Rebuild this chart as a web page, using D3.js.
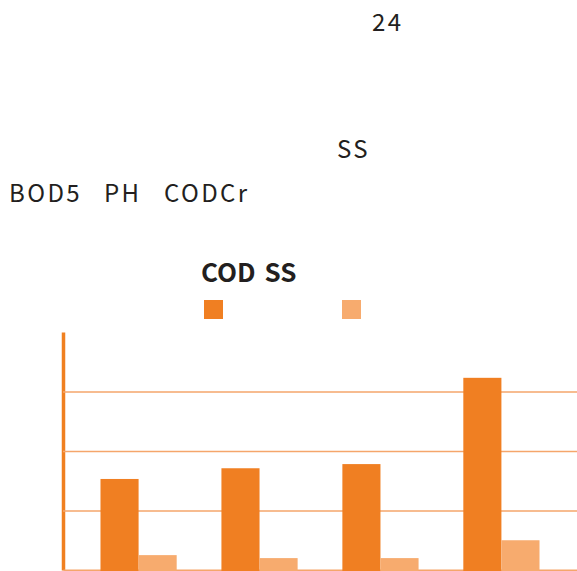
<!DOCTYPE html>
<html>
<head>
<meta charset="utf-8">
<script src="https://cdn.jsdelivr.net/npm/d3@7"></script>
<style>
  body { margin: 0; background: #fff; }
  svg { display: block; font-family: "Noto Sans CJK SC", "Noto Sans", sans-serif; }
  .note { font-size: 24px; fill: #231f20; letter-spacing: 2.4px; }
  .title { font-size: 26px; font-weight: bold; fill: #231f20; word-spacing: 3px; }
  .grid .tick line { stroke: #f5a66b; stroke-width: 1.6; }
  .grid .domain { stroke: #f08020; stroke-width: 3.5; }
  .base .domain { stroke: #f5a66b; stroke-width: 2; }
</style>
</head>
<body>
<svg id="chart"></svg>
<script>
const groups = ["1", "2", "3", "4"];
const seriesNames = ["COD", "SS"];
const codValues = [153, 171, 178, 323];
const ssValues = [25, 20, 20, 50];
const gridTicks = [100, 200, 300];
const colors = ["#f07f22", "#f7ab6e"];

const W = 577, H = 571;
const margin = { top: 332, right: 0, bottom: 1, left: 63 };

const svg = d3.select("#chart").attr("width", W).attr("height", H);

// header notes (CJK glyphs in the source did not render, only latin remains)
svg.append("text").attr("class", "note").attr("x", 372).attr("y", 31).text("24");
svg.append("text").attr("class", "note").attr("x", 337).attr("y", 158).text("SS");
svg.append("text").attr("class", "note").attr("x", 9).attr("y", 202).text("BOD5");
svg.append("text").attr("class", "note").attr("x", 104).attr("y", 202).text("PH");
svg.append("text").attr("class", "note").attr("x", 164).attr("y", 202).text("CODCr");

svg.append("text").attr("class", "title").attr("x", 201).attr("y", 282)
  .text(seriesNames.join(" "));

// legend squares
const legendX = [204, 342];
svg.selectAll(".legend")
  .data(seriesNames)
  .enter()
  .append("rect")
  .attr("class", "legend")
  .attr("x", (d, i) => legendX[i])
  .attr("y", 300)
  .attr("width", 19)
  .attr("height", 19)
  .attr("fill", (d, i) => colors[i]);

const x = d3.scaleBand()
  .domain(groups)
  .range([margin.left, W - margin.right])
  .paddingInner(0.37)
  .paddingOuter(0.31);

const xs = d3.scaleBand()
  .domain(seriesNames)
  .range([0, x.bandwidth()]);

const y = d3.scaleLinear()
  .domain([0, 400])
  .range([H - margin.bottom, margin.top]);

svg.append("g")
  .attr("class", "grid")
  .attr("transform", `translate(${margin.left},0)`)
  .call(d3.axisLeft(y).tickValues(gridTicks).tickSize(-(W - margin.left)).tickSizeOuter(0).tickFormat(""));

svg.append("g")
  .attr("class", "base")
  .attr("transform", `translate(0,${y(0)})`)
  .call(d3.axisBottom(x).tickSize(0).tickFormat(""));

const rows = groups.map((g, i) => ({ g, vals: [codValues[i], ssValues[i]] }));

svg.selectAll(".grp")
  .data(rows)
  .enter()
  .append("g")
  .attr("class", "grp")
  .attr("transform", d => `translate(${x(d.g)},0)`)
  .selectAll("rect")
  .data(d => d.vals.map((v, i) => ({ key: seriesNames[i], v, i })))
  .enter()
  .append("rect")
  .attr("x", d => xs(d.key))
  .attr("y", d => y(d.v))
  .attr("width", xs.bandwidth())
  .attr("height", d => y(0) - y(d.v) + 1)
  .attr("fill", d => colors[d.i]);
</script>
</body>
</html>
